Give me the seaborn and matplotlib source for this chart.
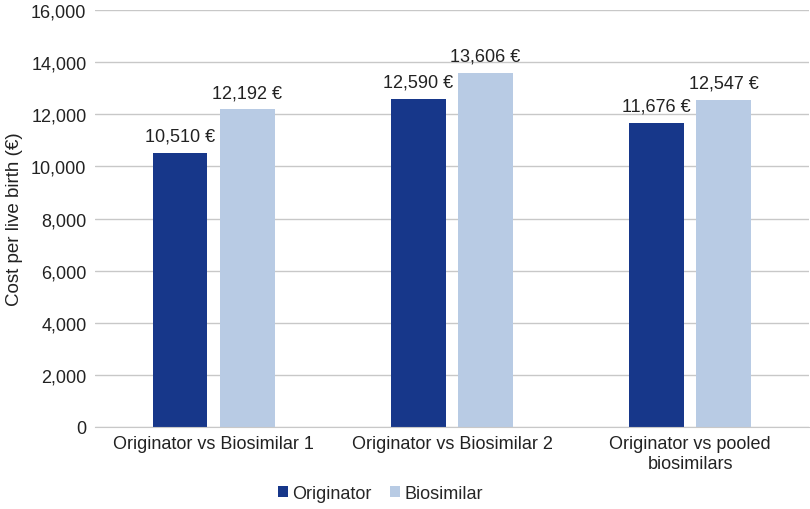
import pandas as pd
import matplotlib.pyplot as plt
import seaborn as sns

# Cost per live birth by comparison
comparisons = ['Originator vs Biosimilar 1', 'Originator vs Biosimilar 2',
               'Originator vs pooled\nbiosimilars']
treatments = ['Originator', 'Biosimilar']
originator_cost = [10510, 12590, 11676]
biosimilar_cost = [12192, 13606, 12547]

df = pd.DataFrame({
    'Comparison': comparisons * 2,
    'Treatment': ['Originator'] * 3 + ['Biosimilar'] * 3,
    'Cost': originator_cost + biosimilar_cost,
})

sns.set_style('white')
plt.rcParams['font.family'] = ['Liberation Sans', 'DejaVu Sans']

fig = plt.figure(figsize=(8.1, 5.1), dpi=100)
ax = fig.add_axes([0.117, 0.161, 0.882, 0.817])

ax.set_axisbelow(True)
ax.yaxis.grid(True, color='#c8c8c8', linewidth=1)
ax.set_ylim(0, 16000)
ax.set_yticks(range(0, 16001, 2000))

sns.barplot(data=df, x='Comparison', y='Cost', hue='Treatment',
            hue_order=treatments, palette=['#17378a', '#b8cbe4'],
            width=0.563, gap=0.19, saturation=1, linewidth=0, ax=ax, legend=True)

for container in ax.containers:
    ax.bar_label(container, labels=[f'{v:,.0f} €' for v in container.datavalues],
                 padding=6, fontsize=13, color='#222222')

ax.set_xlim(-0.5, 2.5)
ax.set_xlabel('')
ax.set_ylabel('Cost per live birth (€)', fontsize=13.5, color='#222222', labelpad=6)
ax.yaxis.set_major_formatter(plt.FuncFormatter(lambda v, p: f'{v:,.0f}'))
ax.tick_params(axis='both', labelsize=13, colors='#222222', length=0, pad=6)
for s in ['top', 'right', 'left']:
    ax.spines[s].set_visible(False)
ax.spines['bottom'].set_color('#c8c8c8')

ax.legend(loc='center', bbox_to_anchor=(0.4, -0.16), ncol=2, frameon=False,
          fontsize=13, handlelength=0.55, handleheight=0.55, handletextpad=0.25,
          columnspacing=1.0, borderpad=0.1)

plt.savefig('out.png', dpi=100)
